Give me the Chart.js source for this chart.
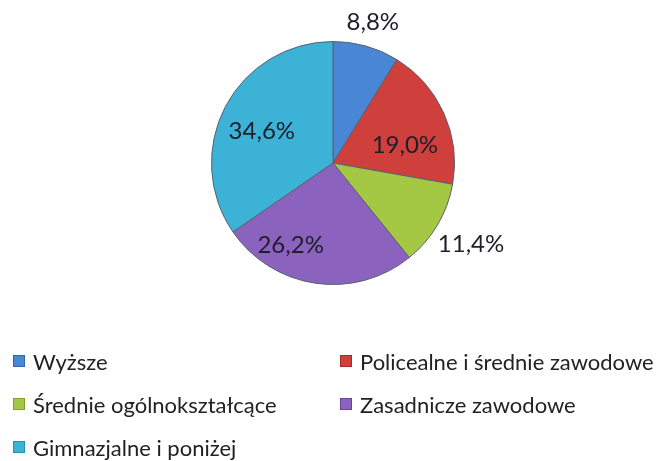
<!DOCTYPE html>
<html>
<head>
<meta charset="utf-8">
<script src="https://cdn.jsdelivr.net/npm/chart.js@4"></script>
<style>
  html, body { margin: 0; padding: 0; background: #fff; }
  #wrap { position: relative; width: 661px; height: 461px; overflow: hidden; }
  #legend { position: absolute; left: 13px; top: 347px; width: 648px; font-family: Lato, sans-serif; font-size: 22px; color: #222; }
  .item { position: absolute; white-space: nowrap; display: flex; align-items: center; height: 28px; }
  .box { width: 10px; height: 10px; margin-right: 8px; }
</style>
</head>
<body>
<div id="wrap">
  <canvas id="pieChart" width="661" height="461"></canvas>
  <div id="legend"></div>
</div>
<script>
const categories = ["Wyższe", "Policealne i średnie zawodowe", "Średnie ogólnokształcące", "Zasadnicze zawodowe", "Gimnazjalne i poniżej"];
const values = [8.8, 19.0, 11.4, 26.2, 34.6];
const colors = ["#4a86d6", "#cf3f3c", "#a4c844", "#8c62bf", "#3bb2d6"];
const edgeColors = ["#2f66b0", "#a82b29", "#7ea22c", "#6a449c", "#2490b4"];
// label placement: distance from centre (fraction of radius) and turn off the mid-angle (degrees)
const labelDist = [1.2, 0.61, 1.32, 0.76, 0.64];
const labelTurn = [0, 10, 0, 19, -4];

const fmt = (v) => v.toFixed(1).replace(".", ",") + "%";

// radial shading so slices look a bit like the Excel bevel
function sliceFill(context) {
  const chart = context.chart;
  const arc = chart.getDatasetMeta(0).data[context.dataIndex];
  if (!arc || !arc.outerRadius) return colors[context.dataIndex];
  const g = chart.ctx.createRadialGradient(arc.x, arc.y, 0, arc.x, arc.y, arc.outerRadius);
  g.addColorStop(0, colors[context.dataIndex]);
  g.addColorStop(0.85, colors[context.dataIndex]);
  g.addColorStop(1, edgeColors[context.dataIndex]);
  return g;
}

const pieLabels = {
  id: "pieLabels",
  afterDatasetsDraw(chart) {
    const ctx = chart.ctx;
    const meta = chart.getDatasetMeta(0);
    ctx.save();
    ctx.font = "24px Lato, sans-serif";
    ctx.fillStyle = "#1e1e2a";
    ctx.textAlign = "center";
    ctx.textBaseline = "middle";
    meta.data.forEach((arc, i) => {
      const mid = (arc.startAngle + arc.endAngle) / 2 + labelTurn[i] * Math.PI / 180;
      const d = arc.outerRadius * labelDist[i];
      ctx.fillText(fmt(values[i]), arc.x + Math.cos(mid) * d, arc.y + Math.sin(mid) * d);
    });
    ctx.restore();
  },
};

new Chart(document.getElementById("pieChart"), {
  type: "pie",
  data: {
    labels: categories,
    datasets: [{
      data: values,
      backgroundColor: sliceFill,
      borderColor: "#5a6070",
      borderWidth: 1,
    }],
  },
  options: {
    responsive: false,
    animation: false,
    layout: { padding: { left: 211, right: 206, top: 41, bottom: 176 } },
    plugins: {
      legend: { display: false },
      tooltip: { enabled: false },
    },
  },
  plugins: [pieLabels],
});

// legend in two columns like the original
const legend = document.getElementById("legend");
categories.forEach((name, i) => {
  const el = document.createElement("div");
  el.className = "item";
  el.style.left = (i % 2 ? 327 : 0) + "px";
  el.style.top = Math.floor(i / 2) * 43 + "px";
  el.innerHTML = `<span class="box" style="background:${colors[i]};border:1px solid ${edgeColors[i]}"></span>${name}`;
  legend.appendChild(el);
});
</script>
</body>
</html>
